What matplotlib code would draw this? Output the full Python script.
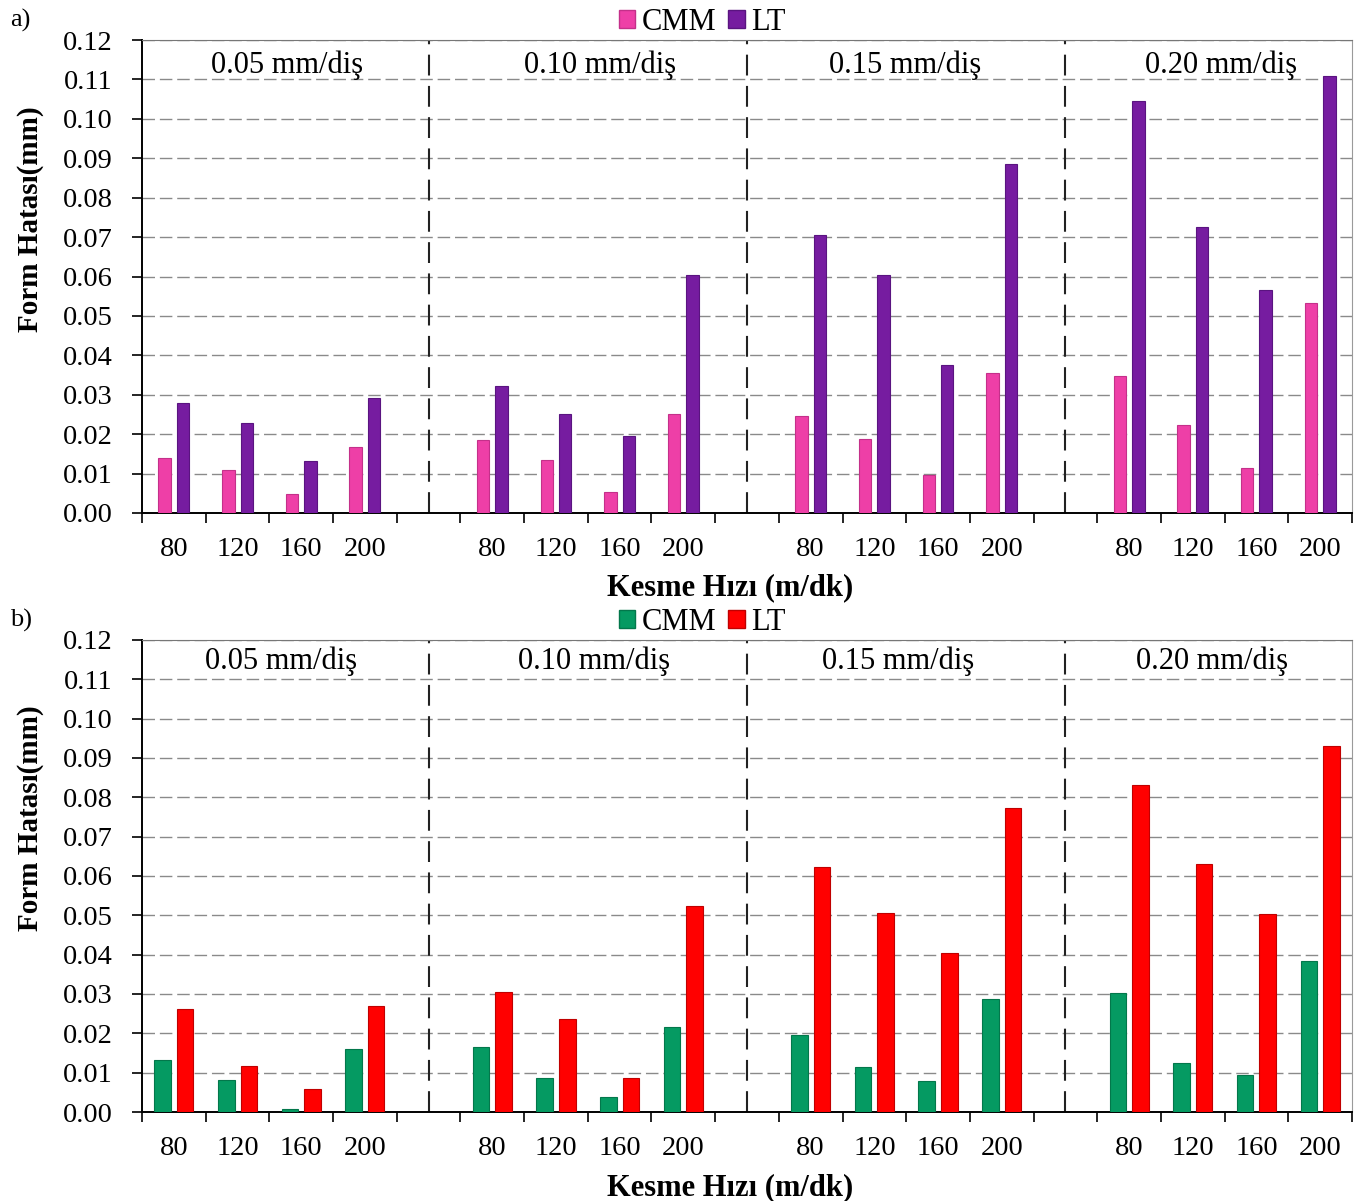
import matplotlib
matplotlib.use("Agg")
import matplotlib.pyplot as plt
import numpy as np
from matplotlib.patches import Patch

plt.rcParams["font.family"] = ["Liberation Serif", "DejaVu Serif"]

# --- data --------------------------------------------------------------
feeds = ["0.05 mm/diş", "0.10 mm/diş", "0.15 mm/diş", "0.20 mm/diş"]
speeds = ["80", "120", "160", "200"]

a_cmm = [0.0140, 0.0110, 0.0049, 0.0168,
         0.0185, 0.0135, 0.0053, 0.0252,
         0.0246, 0.0187, 0.0097, 0.0356,
         0.0347, 0.0224, 0.0114, 0.0534]
a_lt = [0.0279, 0.0228, 0.0132, 0.0292,
        0.0322, 0.0252, 0.0195, 0.0603,
        0.0705, 0.0603, 0.0375, 0.0885,
        0.1046, 0.0725, 0.0566, 0.1109]

b_cmm = [0.0132, 0.0082, 0.0008, 0.0160,
         0.0165, 0.0087, 0.0037, 0.0215,
         0.0196, 0.0115, 0.0078, 0.0287,
         0.0302, 0.0125, 0.0093, 0.0385]
b_lt = [0.0261, 0.0118, 0.0059, 0.0270,
        0.0305, 0.0237, 0.0087, 0.0524,
        0.0623, 0.0505, 0.0405, 0.0772,
        0.0832, 0.0631, 0.0503, 0.0931]

panels = [
    dict(tag="a)", cmm=a_cmm, lt=a_lt, c1="#EE3FA7", e1="#C4308A",
         c2="#761CA0", e2="#5A1480", width=0.195,
         feed_x=[2.28, 7.2, 11.98, 16.95], feed_y=0.947, xlab_y=-0.127),
    dict(tag="b)", cmm=b_cmm, lt=b_lt, c1="#059A62", e1="#03774B",
         c2="#FF0000", e2="#C00000", width=0.26,
         feed_x=[2.18, 7.1, 11.87, 16.8], feed_y=0.955, xlab_y=-0.129),
]

FS_TICK = 20.5
FS_TXT = 22
fig = plt.figure(figsize=(13.63, 12.01), dpi=100)
boxes = [[142 / 1363, 1 - 513 / 1201, 1210 / 1363, 473 / 1201],
         [142 / 1363, 1 - 1112 / 1201, 1210 / 1363, 472 / 1201]]

n_slots = 5 * len(feeds) - 1
gap = 0.095

for box, p in zip(boxes, panels):
    ax = fig.add_axes(box)
    slot = np.array([5 * g + k + 0.5 for g in range(len(feeds))
                     for k in range(len(speeds))])
    w = p["width"]
    off = gap / 2 + w / 2
    ax.bar(slot - off, p["cmm"], w, color=p["c1"], edgecolor=p["e1"],
           linewidth=0.8, zorder=3)
    ax.bar(slot + off, p["lt"], w, color=p["c2"], edgecolor=p["e2"],
           linewidth=0.8, zorder=3)

    ax.set_xlim(0, n_slots)
    ax.set_ylim(0, 0.12)
    yt = np.arange(0, 0.1201, 0.01)
    ax.set_yticks(yt)
    ax.set_yticklabels([f"{v:.2f}" for v in yt], fontsize=FS_TICK)
    ax.yaxis.grid(True, color="#8a8a8a", linestyle=(0, (9, 3.5)),
                  linewidth=1.0, zorder=1)
    ax.set_axisbelow(True)

    # boundary ticks (no labels) + category labels at slot centres
    ax.set_xticks(np.arange(0, n_slots + 1))
    ax.set_xticklabels([])
    ax.set_xticks(slot, minor=True)
    ax.set_xticklabels(speeds * len(feeds), minor=True, fontsize=FS_TICK)
    ax.tick_params(axis="x", which="major", length=7, width=1.2,
                   direction="out", color="black")
    ax.tick_params(axis="x", which="minor", length=0, pad=17)
    ax.tick_params(axis="y", length=7, width=1.2, direction="out", pad=14)

    for s in ("left", "bottom"):
        ax.spines[s].set_color("black")
        ax.spines[s].set_linewidth(1.4)
    ax.spines["top"].set_color("#777777")
    ax.spines["right"].set_color("#9a9a9a")

    # group separators
    for g in range(len(feeds) - 1):
        ax.axvline(5 * g + 4.5, color="#222222", linestyle=(0, (10, 5)),
                   linewidth=1.5, zorder=2)
    for fx, name in zip(p["feed_x"], feeds):
        ax.text(fx, p["feed_y"], name, transform=ax.get_xaxis_transform(),
                ha="center", va="center", fontsize=FS_TXT, zorder=4)

    ax.set_ylabel("Form Hatası(mm)", fontsize=21, fontweight="bold")
    ax.yaxis.set_label_coords(-0.081, 0.622)
    ax.set_xlabel("Kesme Hızı (m/dk)", fontsize=FS_TXT, fontweight="bold")
    ax.xaxis.set_label_coords(0.486, p["xlab_y"])

    handles = [Patch(facecolor=p["c1"], edgecolor=p["e1"], label="CMM"),
               Patch(facecolor=p["c2"], edgecolor=p["e2"], label="LT")]
    ax.legend(handles=handles, loc="center", bbox_to_anchor=(0.463, 1.038),
              ncol=2, frameon=False, fontsize=FS_TXT, handlelength=0.55,
              handleheight=0.55, handletextpad=0.2, columnspacing=0.4,
              borderpad=0)

    y_tag = box[1] + box[3] + 20 / 1201
    fig.text(10 / 1363, y_tag, p["tag"], fontsize=19, ha="left", va="center")

fig.savefig("out.png", dpi=100)
